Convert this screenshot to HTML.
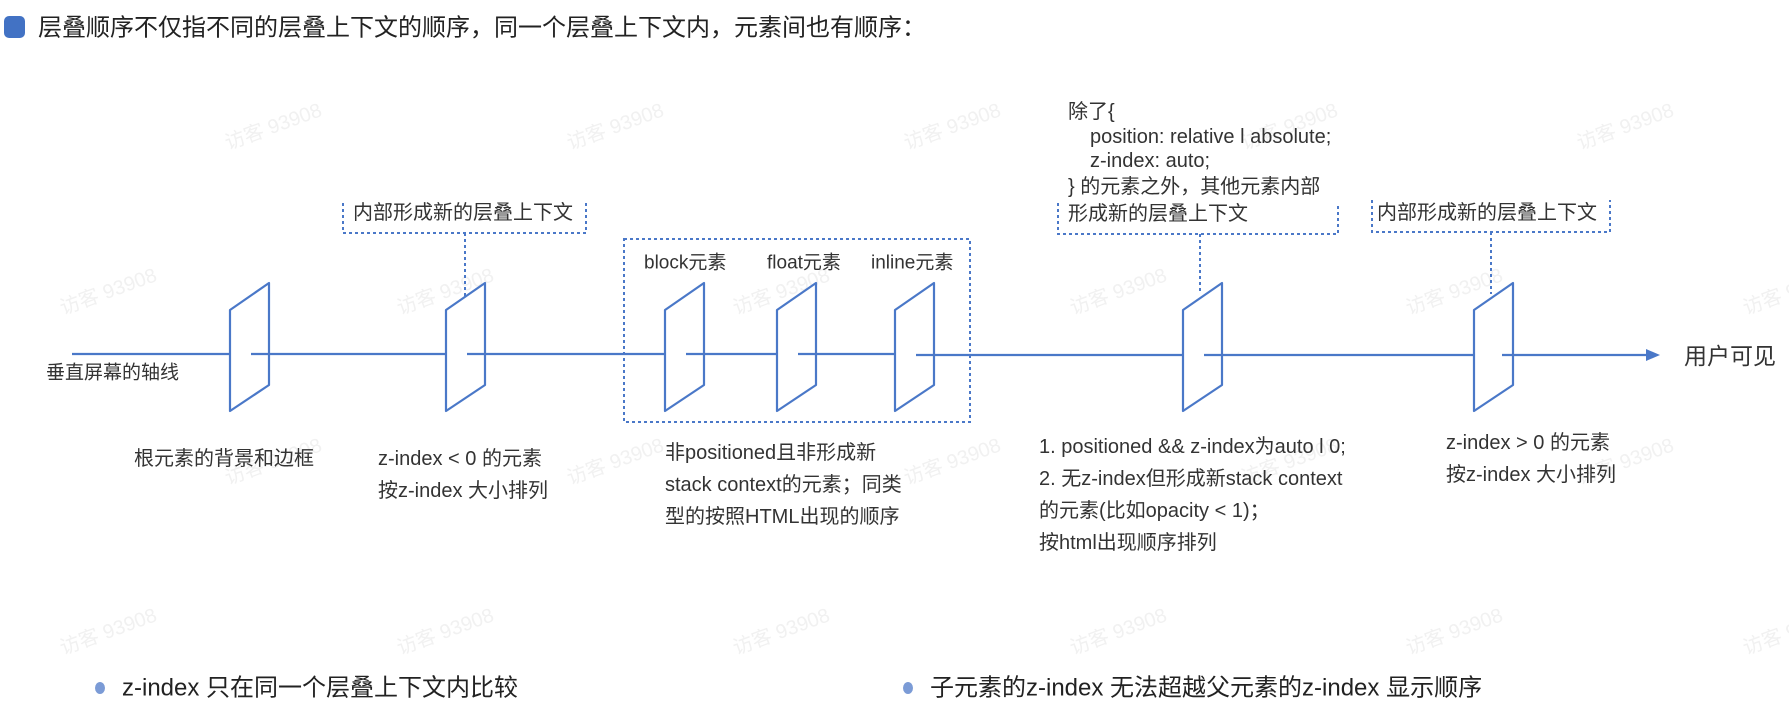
<!DOCTYPE html>
<html><head><meta charset="utf-8"><style>
html,body{margin:0;padding:0;background:#fff;}
svg{display:block;}
text{font-family:"Liberation Sans","Noto Sans CJK SC",sans-serif;fill:#333;}
.wm{fill:#f1f1f1;font-size:20px;}
</style></head><body>
<svg width="1789" height="728" viewBox="0 0 1789 728" xmlns="http://www.w3.org/2000/svg">
<g>
<text class="wm" transform="translate(228,150) rotate(-20)">访客 93908</text>
<text class="wm" transform="translate(570,150) rotate(-20)">访客 93908</text>
<text class="wm" transform="translate(907,150) rotate(-20)">访客 93908</text>
<text class="wm" transform="translate(1244,150) rotate(-20)">访客 93908</text>
<text class="wm" transform="translate(1580,150) rotate(-20)">访客 93908</text>
<text class="wm" transform="translate(63,315) rotate(-20)">访客 93908</text>
<text class="wm" transform="translate(400,315) rotate(-20)">访客 93908</text>
<text class="wm" transform="translate(736,315) rotate(-20)">访客 93908</text>
<text class="wm" transform="translate(1073,315) rotate(-20)">访客 93908</text>
<text class="wm" transform="translate(1409,315) rotate(-20)">访客 93908</text>
<text class="wm" transform="translate(1746,315) rotate(-20)">访客 93908</text>
<text class="wm" transform="translate(228,485) rotate(-20)">访客 93908</text>
<text class="wm" transform="translate(570,485) rotate(-20)">访客 93908</text>
<text class="wm" transform="translate(907,485) rotate(-20)">访客 93908</text>
<text class="wm" transform="translate(1244,485) rotate(-20)">访客 93908</text>
<text class="wm" transform="translate(1580,485) rotate(-20)">访客 93908</text>
<text class="wm" transform="translate(63,655) rotate(-20)">访客 93908</text>
<text class="wm" transform="translate(400,655) rotate(-20)">访客 93908</text>
<text class="wm" transform="translate(736,655) rotate(-20)">访客 93908</text>
<text class="wm" transform="translate(1073,655) rotate(-20)">访客 93908</text>
<text class="wm" transform="translate(1409,655) rotate(-20)">访客 93908</text>
<text class="wm" transform="translate(1746,655) rotate(-20)">访客 93908</text>
</g>

<rect x="4" y="16" width="21" height="22" rx="5" fill="#4272c4"/>
<text x="38" y="28" font-size="24" dominant-baseline="central" style="fill:#222">层叠顺序不仅指不同的层叠上下文的顺序，同一个层叠上下文内，元素间也有顺序：</text>

<g stroke="#4a78c8" stroke-width="2" fill="none" stroke-dasharray="3 3">
  <polyline points="343,203 343,233 586,233 586,203"/>
  <line x1="465" y1="233" x2="465" y2="296"/>
  <rect x="624" y="239" width="346" height="183"/>
  <polyline points="1058,203 1058,234 1338,234 1338,203"/>
  <line x1="1200" y1="234" x2="1200" y2="294"/>
  <polyline points="1372,200 1372,232 1610,232 1610,200"/>
  <line x1="1491" y1="232" x2="1491" y2="294"/>
</g>

<g stroke="#4a78c8" stroke-width="2.2" fill="#fff" stroke-linejoin="round">
  <polygon points="230,310 269,283 269,385 230,411"/>
  <polygon points="446,310 485,283 485,385 446,411"/>
  <polygon points="665,310 704,283 704,385 665,411"/>
  <polygon points="777,310 816,283 816,385 777,411"/>
  <polygon points="895,310 934,283 934,385 895,411"/>
  <polygon points="1183,310 1222,283 1222,385 1183,411"/>
  <polygon points="1474,310 1513,283 1513,385 1474,411"/>
</g>
<g stroke="#4a78c8" stroke-width="2.2">
  <line x1="72" y1="354" x2="230" y2="354"/>
  <line x1="251" y1="354" x2="446" y2="354"/>
  <line x1="467" y1="354" x2="665" y2="354"/>
  <line x1="686" y1="354" x2="777" y2="354"/>
  <line x1="798" y1="354" x2="895" y2="354"/>
  <line x1="916" y1="355" x2="1183" y2="355"/>
  <line x1="1204" y1="355" x2="1474" y2="355"/>
  <line x1="1502" y1="355" x2="1648" y2="355"/>
</g>
<polygon points="1646,349 1660,355 1646,361" fill="#4a78c8"/>

<g font-size="19">
<text x="46" y="373" dominant-baseline="central">垂直屏幕的轴线</text>
<text x="644" y="263" dominant-baseline="central">block元素</text>
<text x="767" y="263" dominant-baseline="central">float元素</text>
<text x="871" y="263" dominant-baseline="central">inline元素</text>
</g>
<g font-size="20">
<text x="353" y="213" dominant-baseline="central">内部形成新的层叠上下文</text>
<text x="1377" y="213" dominant-baseline="central">内部形成新的层叠上下文</text>
<text x="1068" y="112" dominant-baseline="central">除了{</text>
<text x="1090" y="137" dominant-baseline="central">position: relative l absolute;</text>
<text x="1090" y="161" dominant-baseline="central">z-index: auto;</text>
<text x="1068" y="187" dominant-baseline="central">} 的元素之外，其他元素内部</text>
<text x="1068" y="214" dominant-baseline="central">形成新的层叠上下文</text>

<text x="134" y="459" dominant-baseline="central">根元素的背景和边框</text>
<text x="378" y="459" dominant-baseline="central">z-index &lt; 0 的元素</text>
<text x="378" y="491" dominant-baseline="central">按z-index 大小排列</text>

<text x="665" y="453" dominant-baseline="central">非positioned且非形成新</text>
<text x="665" y="485" dominant-baseline="central">stack context的元素；同类</text>
<text x="665" y="517" dominant-baseline="central">型的按照HTML出现的顺序</text>

<text x="1039" y="447" dominant-baseline="central">1. positioned &amp;&amp; z-index为auto l 0;</text>
<text x="1039" y="479" dominant-baseline="central">2. 无z-index但形成新stack context</text>
<text x="1039" y="511" dominant-baseline="central">的元素(比如opacity &lt; 1)；</text>
<text x="1039" y="543" dominant-baseline="central">按html出现顺序排列</text>

<text x="1446" y="443" dominant-baseline="central">z-index &gt; 0 的元素</text>
<text x="1446" y="475" dominant-baseline="central">按z-index 大小排列</text>
</g>
<text x="1684" y="356" font-size="23" dominant-baseline="central">用户可见</text>

<ellipse cx="100" cy="688" rx="5" ry="6" fill="#7b9bd6"/>
<text x="122" y="688" font-size="24" dominant-baseline="central" style="fill:#222">z-index  只在同一个层叠上下文内比较</text>
<ellipse cx="908" cy="688" rx="5" ry="6" fill="#7b9bd6"/>
<text x="930" y="688" font-size="24" dominant-baseline="central" style="fill:#222">子元素的z-index 无法超越父元素的z-index 显示顺序</text>
</svg>
</body></html>
